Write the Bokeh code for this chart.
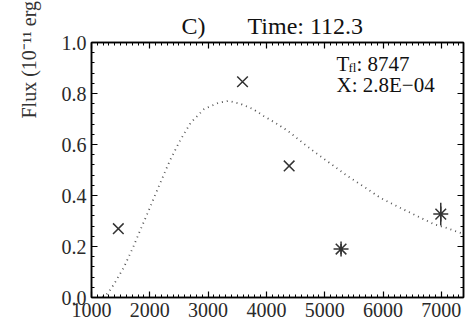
import math
from bokeh.plotting import figure
from bokeh.models import (Range1d, LinearAxis, Label, Whisker, ColumnDataSource, FixedTicker,
                          CustomJSTickFormatter, Title)
from bokeh.embed import file_html
from bokeh.resources import INLINE

# ---- data ----
model_wave = [1100, 1200, 1280, 1380, 1550, 1710, 1810, 1970, 2070, 2190, 2350, 2530, 2700,
              2930, 3170, 3350, 3560, 3770, 3950, 4160, 4370, 4560, 4800, 5100, 5400,
              5700, 5960, 6300, 6650, 6870, 7100, 7380]
model_flux = [0.0, 0.003, 0.016, 0.05, 0.116, 0.195, 0.25, 0.335, 0.39, 0.455, 0.54, 0.62, 0.685,
              0.739, 0.763, 0.771, 0.759, 0.739, 0.712, 0.684, 0.653, 0.618, 0.575, 0.525, 0.475,
              0.43, 0.39, 0.351, 0.312, 0.288, 0.272, 0.249]
x_wave = [1460, 3590, 4390]
x_flux = [0.27, 0.846, 0.516]
ast_wave = [5280, 6990]
ast_flux = [0.19, 0.327]
ast_err = [0.02, 0.045]
x_ticks = [1000, 2000, 3000, 4000, 5000, 6000, 7000]
y_ticks = [0.0, 0.2, 0.4, 0.6, 0.8, 1.0]
title_panel = "C)"
title_time = "Time: 112.3"
t_fl = "8747"
x_val = "2.8E\u221204"
y_label = "Flux (10\u207b\u00b9\u00b9 erg s\u207b\u00b9 cm\u207b\u00b2 \u00c5\u207b\u00b9)"

FONT = "Liberation Serif"

p = figure(width=467, height=326, output_backend="svg", toolbar_location=None,
           x_range=Range1d(1000, 7380), y_range=Range1d(0, 1.0),
           x_axis_location=None, y_axis_location=None,
           min_border_left=91, min_border_right=4, min_border_top=42, min_border_bottom=29)
p.grid.visible = False
p.outline_line_color = "black"
p.outline_line_width = 1.5
p.background_fill_color = "white"
p.border_fill_color = "white"

x_minor = list(range(1000, 7400, 100))
y_minor = [round(i * 0.04, 2) for i in range(26)]


def make_axis(ticks, minor, labels):
    ax = LinearAxis(ticker=FixedTicker(ticks=ticks, minor_ticks=minor))
    ax.axis_line_color = "black"
    ax.axis_line_width = 1.5
    ax.major_tick_line_color = "black"
    ax.minor_tick_line_color = "black"
    ax.major_tick_line_width = 1.2
    ax.minor_tick_line_width = 1.0
    ax.major_tick_in = 6
    ax.major_tick_out = 0
    ax.minor_tick_in = 3
    ax.minor_tick_out = 0
    ax.major_label_text_font = FONT
    if labels:
        ax.major_label_text_font_size = "20px"
        ax.major_label_text_color = "#2a2a2a"
        ax.major_label_standoff = 5
    else:
        ax.major_label_text_font_size = "0px"
        ax.major_label_standoff = 0
        ax.major_label_text_alpha = 0
    return ax


bx = make_axis(x_ticks, x_minor, True)
ly = make_axis(y_ticks, y_minor, True)
ly.formatter = CustomJSTickFormatter(code="return tick.toFixed(1);")
tx = make_axis(x_ticks, x_minor, False)
ry = make_axis(y_ticks, y_minor, False)

p.add_layout(bx, "below")
p.add_layout(ly, "left")
p.add_layout(tx, "above")
p.add_layout(ry, "right")

# titles (outside the frame)
NB = "\u00a0"
p.add_layout(Title(text=title_panel + NB * 7 + title_time, text_font=FONT, text_font_size="24px",
                   text_font_style="normal", text_color="#111111", align="left",
                   offset=90, standoff=8), "above")
p.add_layout(Title(text=y_label, text_font=FONT, text_font_size="20px", text_font_style="normal",
                   text_color="#333333", align="left", vertical_align="top",
                   offset=179, standoff=34), "left")

# model curve (dotted)
p.line(model_wave, model_flux, line_color="#555555", line_width=1.8, line_dash="1 4")

# observed points
p.scatter(x_wave, x_flux, marker="x", size=15, line_color="#333333", line_width=1.5)
p.scatter(ast_wave, ast_flux, marker="asterisk", size=15, line_color="#333333", line_width=1.5)
src = ColumnDataSource(dict(x=ast_wave,
                            lo=[f - e for f, e in zip(ast_flux, ast_err)],
                            hi=[f + e for f, e in zip(ast_flux, ast_err)]))
p.add_layout(Whisker(source=src, base="x", lower="lo", upper="hi", line_color="#333333",
                     line_width=1.5, upper_head=None, lower_head=None))

FB = 297  # frame bottom canvas px
FL = 91   # frame left canvas px


def lab(text, cx, cy, size):
    p.add_layout(Label(x=cx - FL, y=FB - cy, x_units="screen", y_units="screen", text=text,
                       text_font=FONT, text_font_size=size, text_color="#111111",
                       text_align="left", text_baseline="alphabetic"))


lab("T", 336, 63, "21px")
lab("fl", 348, 67, "13px")
lab(": " + t_fl, 356, 63, "21px")
lab("X: " + x_val, 336, 84, "21px")

open("out.html", "w").write(file_html(p, INLINE))
